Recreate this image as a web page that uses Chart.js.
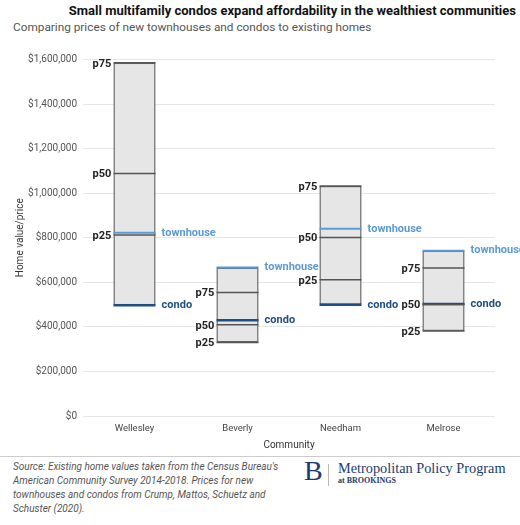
<!DOCTYPE html>
<html>
<head>
<meta charset="utf-8">
<script src="https://cdn.jsdelivr.net/npm/chart.js@4.4.1/dist/chart.umd.min.js"></script>
<style>
  html, body { margin: 0; padding: 0; background: #fff; }
  body { width: 520px; height: 525px; position: relative; overflow: hidden; font-family: Roboto, sans-serif; }
  #title { position: absolute; top: 3px; right: 4px; font-size: 13px; font-weight: bold; color: #111; white-space: nowrap; }
  #subtitle { position: absolute; top: 20px; left: 13px; font-size: 11.8px; color: #555; white-space: nowrap; }
  #wrap { position: absolute; top: 36px; left: 0; width: 520px; height: 419px; }
  #sep { position: absolute; top: 456px; left: 0; width: 520px; height: 1px; background: #ccc; }
  #source { position: absolute; top: 460px; left: 13px; width: 290px; font-size: 10px; line-height: 14px; font-style: italic; color: #555; }
  #logoB { position: absolute; top: 455px; left: 304px; font-family: "Liberation Serif", serif; font-size: 28px; color: #1d3c6e; }
  #logoBar { position: absolute; top: 464px; left: 328px; width: 1px; height: 22px; background: #bbb; }
  #logoText { position: absolute; top: 460px; left: 338px; font-family: "Liberation Serif", serif; font-size: 14.3px; color: #1d3c6e; white-space: nowrap; }
  #logoSub { position: absolute; top: 476px; left: 338px; font-family: "Liberation Serif", serif; font-size: 8px; font-weight: bold; color: #1d3c6e; white-space: nowrap; }
</style>
</head>
<body>
<div id="title">Small multifamily condos expand affordability in the wealthiest communities</div>
<div id="subtitle">Comparing prices of new townhouses and condos to existing homes</div>
<div id="wrap"><canvas id="chart"></canvas></div>
<div id="sep"></div>
<div id="source">Source: Existing home values taken from the Census Bureau's American Community Survey 2014-2018. Prices for new townhouses and condos from Crump, Mattos, Schuetz and Schuster (2020).</div>
<div id="logoB">B</div>
<div id="logoBar"></div>
<div id="logoText">Metropolitan Policy Program</div>
<div id="logoSub">at BROOKINGS</div>
<script>
// ---------------------------------------------------------------------------
// Data
// ---------------------------------------------------------------------------
const communities = ["Wellesley", "Beverly", "Needham", "Melrose"];
const p25 = [812000, 330000, 611000, 382000];
const p50 = [1088000, 409000, 801000, 500000];
const p75 = [1585000, 554000, 1032000, 664000];
const townhouse = [822000, 667000, 840000, 742000];
const condo = [497000, 430000, 499000, 503000];
const yTicks = [0, 200000, 400000, 600000, 800000, 1000000, 1200000, 1400000, 1600000];

const TOWN_COLOR = "#5b9bd5";
const CONDO_COLOR = "#1f4e84";
const P_COLOR = "#555";

// box spans every value for the community
const boxes = communities.map((c, i) => {
  const vals = [p25[i], p50[i], p75[i], townhouse[i], condo[i]];
  return [Math.min(...vals), Math.max(...vals)];
});

function markerSet(label, data, color, width) {
  return {
    type: "line", label, data,
    showLine: false,
    pointStyle: "line",
    pointRadius: 21, pointHoverRadius: 21,
    pointBorderWidth: width, pointHoverBorderWidth: width,
    pointBorderColor: color,
    order: 1,
  };
}

// text labels next to each box
const boxLabels = {
  id: "boxLabels",
  afterDatasetsDraw(chart) {
    const { ctx, scales: { y } } = chart;
    const bars = chart.getDatasetMeta(0).data;
    ctx.save();
    ctx.textBaseline = "middle";
    ctx.font = "bold 11px Roboto";
    bars.forEach((bar, i) => {
      const left = bar.x - bar.width / 2, right = bar.x + bar.width / 2;
      ctx.textAlign = "right";
      ctx.fillStyle = "#222";
      [["p75", p75], ["p50", p50], ["p25", p25]].forEach(([t, arr]) => {
        ctx.fillText(t, left - 2, y.getPixelForValue(arr[i]) + 1);
      });
      ctx.textAlign = "left";
      ctx.fillStyle = TOWN_COLOR;
      ctx.fillText("townhouse", right + 6, y.getPixelForValue(townhouse[i]));
      ctx.fillStyle = CONDO_COLOR;
      ctx.fillText("condo", right + 6, y.getPixelForValue(condo[i]));
    });
    ctx.restore();
  }
};

new Chart(document.getElementById("chart"), {
  type: "bar",
  data: {
    labels: communities,
    datasets: [
      {
        label: "range",
        data: boxes,
        backgroundColor: "#e6e6e6",
        borderColor: "#666",
        borderWidth: 1.5,
        borderSkipped: false,
        barPercentage: 0.41,
        categoryPercentage: 1,
        order: 10,
      },
      markerSet("p25", p25, P_COLOR, 1.5),
      markerSet("p50", p50, P_COLOR, 1.5),
      markerSet("p75", p75, P_COLOR, 1.5),
      markerSet("townhouse", townhouse, TOWN_COLOR, 2),
      markerSet("condo", condo, CONDO_COLOR, 2.5),
    ]
  },
  options: {
    responsive: true,
    maintainAspectRatio: false,
    animation: false,
    layout: { padding: { top: 15, right: 25, bottom: 0, left: 0 } },
    plugins: { legend: { display: false }, tooltip: { enabled: false } },
    scales: {
      x: {
        grid: { display: false, drawTicks: false },
        border: { display: false },
        ticks: { color: "#444", font: { family: "Roboto", size: 9.5 }, padding: 7 },
        title: { display: true, text: "Community", color: "#333", font: { family: "Roboto", size: 10 }, padding: { top: 2, bottom: 4 } },
        afterFit(scale) { scale.height = 39; },
      },
      y: {
        min: 0, max: 1600000,
        afterBuildTicks(scale) { scale.ticks = yTicks.map(v => ({ value: v })); },
        grid: { color: "#e6e6e6", drawTicks: false },
        border: { display: false },
        ticks: {
          color: "#555", font: { family: "Roboto", size: 10 }, padding: 6,
          callback: v => "$" + v.toLocaleString("en-US"),
        },
        title: { display: true, text: "Home value/price", color: "#333", font: { family: "Roboto", size: 10 }, padding: { top: 14, bottom: 0 } },
        afterFit(scale) { scale.width = 83; },
      }
    }
  },
  plugins: [boxLabels]
});
</script>
</body>
</html>
